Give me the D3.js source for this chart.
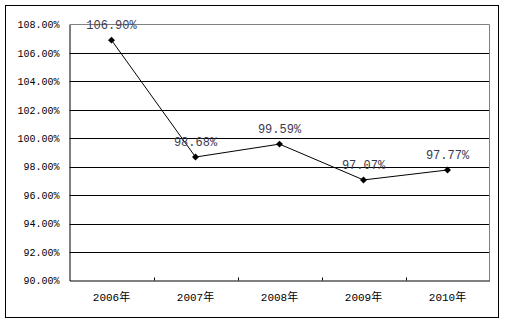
<!DOCTYPE html>
<html><head><meta charset="utf-8">
<script src="https://cdn.jsdelivr.net/npm/d3@7"></script>
<style>html,body{margin:0;padding:0;background:#fff;}svg{display:block;}</style>
</head><body>
<script>
const categories = ["2006年","2007年","2008年","2009年","2010年"];
const values = [106.90, 98.68, 99.59, 97.07, 97.77];
const valueLabels = ["106.90%","98.68%","99.59%","97.07%","97.77%"];
const yTicks = [90,92,94,96,98,100,102,104,106,108];

(function(){
const W = 526, H = 325;
const svg = d3.select("body").append("svg").attr("width", W).attr("height", H);

// outer frame
svg.append("rect").attr("x",5.5).attr("y",5.5).attr("width",493).attr("height",312)
  .attr("fill","#fff").attr("stroke","#000").attr("stroke-width",1);

const pLeft = 69.5, pRight = 489.5, pTop = 24.5, pBottom = 280.5;
const x = d3.scaleBand().domain(categories).range([pLeft, pRight]).paddingInner(0).paddingOuter(0);
const y = d3.scaleLinear().domain([90,108]).range([pBottom, pTop]);

// gridlines
svg.append("g").selectAll("line").data(yTicks.filter(t => t>90 && t<108)).join("line")
  .attr("x1",pLeft).attr("x2",pRight).attr("y1",d=>Math.round(y(d))+0.5).attr("y2",d=>Math.round(y(d))+0.5)
  .attr("stroke","#000").attr("stroke-width",1);
// plot area top & right border (gray)
svg.append("path").attr("d",`M${pLeft},${pTop}H${pRight}V${pBottom}`).attr("fill","none")
  .attr("stroke","#808080").attr("stroke-width",1);

// y axis
const yAxis = d3.axisLeft(y).tickValues(yTicks).tickSize(0).tickPadding(10)
  .tickFormat(d => d.toFixed(2) + "%");
const gy = svg.append("g").attr("transform",`translate(${pLeft},0)`).call(yAxis);
gy.select(".domain").attr("stroke","#000");
gy.selectAll("text").attr("font-family","'Liberation Mono', monospace").attr("font-size","10px").attr("fill","#000");

// x axis
const xAxis = d3.axisBottom(x).tickSize(0).tickPadding(13);
const gx = svg.append("g").attr("transform",`translate(0,${pBottom})`).call(xAxis);
gx.select(".domain").attr("stroke","#000");
gx.selectAll("text").attr("font-family","'Liberation Mono','Noto Sans CJK SC', monospace").attr("font-size","11px").attr("fill","#000");
// category boundary ticks (pointing up)
const bounds = categories.slice(1).map(c => Math.round(x(c))+0.5);
svg.append("g").selectAll("line").data(bounds).join("line")
  .attr("x1",d=>d).attr("x2",d=>d).attr("y1",pBottom).attr("y2",pBottom-3)
  .attr("stroke","#000");

// line
const pts = categories.map((c,i)=>[x(c)+x.bandwidth()/2, y(values[i])]);
svg.append("path").attr("d", d3.line()(pts)).attr("fill","none").attr("stroke","#000").attr("stroke-width",1);
// markers
svg.append("g").selectAll("path").data(pts).join("path")
  .attr("d", d3.symbol().type(d3.symbolSquare).size(24))
  .attr("transform", d=>`translate(${d[0]},${d[1]}) rotate(45)`)
  .attr("fill","#000");
// value labels
svg.append("g").selectAll("text").data(pts).join("text")
  .attr("x", d=>d[0]).attr("y", d=>d[1]-11)
  .attr("text-anchor","middle")
  .attr("font-family","'Liberation Mono', monospace").attr("font-size","12px").attr("fill","#3a3a50")
  .text((d,i)=>valueLabels[i]);
})();
</script>
</body></html>
